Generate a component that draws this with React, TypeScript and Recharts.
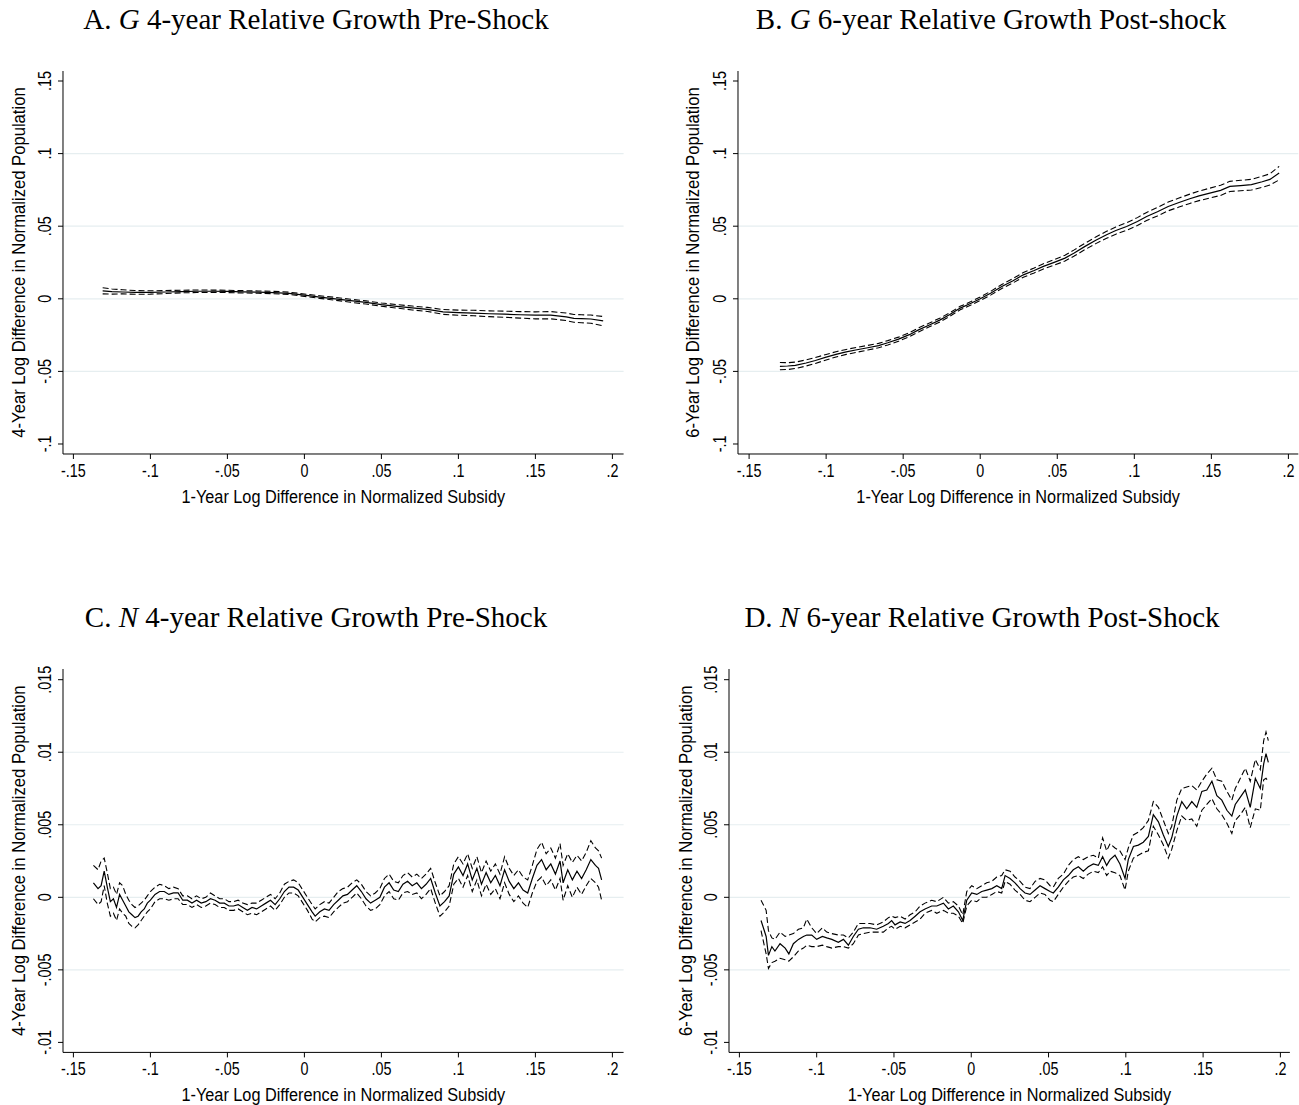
import React from "react";
import { LineChart, Line, XAxis, YAxis, ReferenceLine } from "recharts";

// Panel A: G, 4-year relative growth before the shock
const subsidyA = [
  -0.131, -0.125, -0.118, -0.11, -0.1, -0.09, -0.08, -0.07, -0.06, -0.05,
  -0.04, -0.03, -0.02, -0.01, 0.0, 0.01, 0.02, 0.03, 0.04, 0.05,
  0.06, 0.07, 0.08, 0.09, 0.1, 0.11, 0.12, 0.13, 0.14, 0.15,
  0.16, 0.17, 0.175, 0.18, 0.186, 0.194,
];
const fitA = [
  0.0055, 0.005, 0.0047, 0.0044, 0.0044, 0.0047, 0.005, 0.0052, 0.0052, 0.0051,
  0.0048, 0.0046, 0.0043, 0.0038, 0.0025, 0.0012, 0.0, -0.0013, -0.0025, -0.004,
  -0.0052, -0.0063, -0.0073, -0.009, -0.0095, -0.0098, -0.0103, -0.0106, -0.011, -0.0112,
  -0.0112, -0.0124, -0.0135, -0.0137, -0.0139, -0.0152,
];
const lowA = [
  0.0034, 0.0032, 0.0034, 0.0031, 0.0032, 0.0036, 0.0041, 0.0043, 0.0044, 0.0043,
  0.004, 0.0038, 0.0035, 0.003, 0.0017, 0.0003, -0.001, -0.0024, -0.0036, -0.0051,
  -0.0064, -0.0077, -0.0087, -0.0107, -0.0113, -0.0117, -0.0123, -0.0127, -0.0133, -0.0138,
  -0.0138, -0.015, -0.0162, -0.0165, -0.0168, -0.0186,
];
const highA = [
  0.0076, 0.0068, 0.0062, 0.0057, 0.0055, 0.0057, 0.0059, 0.0061, 0.006, 0.0059,
  0.0056, 0.0054, 0.0051, 0.0046, 0.0033, 0.0021, 0.001, -0.0003, -0.0014, -0.0029,
  -0.004, -0.005, -0.0059, -0.0074, -0.0078, -0.0079, -0.0083, -0.0085, -0.0088, -0.009,
  -0.0088, -0.0098, -0.0108, -0.011, -0.0112, -0.0122,
];

// Panel B: G, 6-year relative growth after the shock
const subsidyB = [
  -0.13, -0.125, -0.12, -0.113, -0.107, -0.1, -0.093, -0.087, -0.08, -0.073,
  -0.066, -0.06, -0.053, -0.046, -0.04, -0.033, -0.026, -0.02, -0.013, -0.006,
  0.0, 0.007, 0.014, 0.021, 0.028, 0.035, 0.041, 0.048, 0.055, 0.061,
  0.068, 0.075, 0.082, 0.088, 0.095, 0.102, 0.108, 0.115, 0.122, 0.129,
  0.136, 0.142, 0.149, 0.156, 0.162, 0.169, 0.176, 0.183, 0.188, 0.194,
];
const fitB = [
  -0.0466, -0.0463, -0.0458, -0.0442, -0.0425, -0.0402, -0.0381, -0.0366, -0.0351, -0.0337,
  -0.0322, -0.0303, -0.0278, -0.0247, -0.0214, -0.018, -0.0145, -0.011, -0.0064, -0.0031,
  0.0, 0.004, 0.0085, 0.0123, 0.0165, 0.0195, 0.0223, 0.0251, 0.028, 0.0316,
  0.0361, 0.0403, 0.0441, 0.047, 0.0498, 0.0532, 0.0567, 0.06, 0.0636, 0.0663,
  0.0689, 0.0709, 0.0728, 0.0747, 0.0774, 0.078, 0.0786, 0.0806, 0.0822, 0.0866,
];
const lowB = [
  -0.0489, -0.0487, -0.048, -0.0463, -0.0445, -0.0421, -0.0399, -0.0383, -0.0368, -0.0353,
  -0.0337, -0.0318, -0.0292, -0.0261, -0.0228, -0.0193, -0.0158, -0.0122, -0.0076, -0.0043,
  -0.0012, 0.0027, 0.0071, 0.0108, 0.0149, 0.0178, 0.0205, 0.0232, 0.026, 0.0295,
  0.0339, 0.038, 0.0417, 0.0445, 0.0472, 0.0505, 0.0539, 0.0571, 0.0606, 0.0632,
  0.0657, 0.0676, 0.0694, 0.0712, 0.0739, 0.0744, 0.0749, 0.0768, 0.0783, 0.0819,
];
const highB = [
  -0.0439, -0.044, -0.0436, -0.0421, -0.0405, -0.0383, -0.0363, -0.0349, -0.0334, -0.0321,
  -0.0307, -0.0288, -0.0264, -0.0233, -0.02, -0.0167, -0.0132, -0.0098, -0.0052, -0.0019,
  0.0012, 0.0053, 0.0099, 0.0138, 0.0181, 0.0212, 0.0241, 0.027, 0.03, 0.0337,
  0.0383, 0.0426, 0.0465, 0.0495, 0.0524, 0.0559, 0.0595, 0.0629, 0.0666, 0.0694,
  0.0721, 0.0742, 0.0762, 0.0782, 0.0809, 0.0816, 0.0823, 0.0844, 0.0861, 0.0912,
];

// Panel C: N, 4-year relative growth before the shock
const subsidyC = [
  -0.137, -0.134, -0.132, -0.13, -0.128, -0.126, -0.124, -0.122, -0.12, -0.118,
  -0.116, -0.114, -0.112, -0.11, -0.108, -0.106, -0.104, -0.102, -0.1, -0.097,
  -0.094, -0.091, -0.088, -0.085, -0.082, -0.079, -0.076, -0.073, -0.07, -0.067,
  -0.064, -0.061, -0.058, -0.055, -0.052, -0.049, -0.046, -0.043, -0.04, -0.037,
  -0.034, -0.031, -0.028, -0.025, -0.022, -0.019, -0.016, -0.013, -0.01, -0.007,
  -0.004, -0.001, 0.002, 0.005, 0.007, 0.01, 0.013, 0.016, 0.019, 0.022,
  0.025, 0.028, 0.031, 0.034, 0.037, 0.04, 0.043, 0.046, 0.049, 0.052,
  0.055, 0.058, 0.061, 0.064, 0.067, 0.07, 0.073, 0.076, 0.079, 0.082,
  0.085, 0.088, 0.091, 0.094, 0.097, 0.1, 0.103, 0.106, 0.109, 0.112,
  0.115, 0.118, 0.121, 0.124, 0.127, 0.13, 0.133, 0.136, 0.139, 0.142,
  0.145, 0.148, 0.151, 0.154, 0.157, 0.16, 0.163, 0.166, 0.168, 0.171,
  0.174, 0.177, 0.18, 0.183, 0.186, 0.189, 0.191, 0.193,
];
const fitC = [
  0.001, 0.0006, 0.0008, 0.0018, 0.0007, -0.0003, -0.0001, -0.0007, 0.0002, -0.0002,
  -0.0006, -0.001, -0.0012, -0.0014, -0.0013, -0.001, -0.0008, -0.0004, -0.0002, 0.0002,
  0.0004, 0.0004, 0.0002, 0.0003, 0.0003, -0.0002, -0.0002, -0.0004, -0.0002, -0.0004,
  -0.0003, -0.0001, -0.0002, -0.0004, -0.0004, -0.0006, -0.0006, -0.0005, -0.0007, -0.0009,
  -0.0007, -0.0008, -0.0006, -0.0004, -0.0002, -0.0005, -0.0001, 0.0004, 0.0007, 0.0007,
  0.0005, 0.0, -0.0005, -0.001, -0.0013, -0.001, -0.0008, -0.0009, -0.0005, -0.0002,
  0.0001, 0.0002, 0.0005, 0.0008, 0.0004, -0.0001, -0.0004, -0.0002, 0.0, 0.0007,
  0.001, 0.0005, 0.0004, 0.0009, 0.0011, 0.0008, 0.001, 0.0006, 0.0009, 0.0013,
  0.0003, -0.0006, -0.0003, 0.0001, 0.0016, 0.0021, 0.0015, 0.0023, 0.0012, 0.002,
  0.0009, 0.0017, 0.001, 0.0015, 0.0008, 0.0019, 0.0011, 0.0006, 0.001, 0.0005,
  0.0003, 0.0013, 0.0022, 0.0026, 0.0019, 0.0023, 0.0016, 0.0025, 0.001, 0.0019,
  0.0012, 0.0018, 0.0013, 0.0019, 0.0026, 0.0022, 0.002, 0.0012,
];
const lowC = [
  -0.0001, -0.0005, -0.0003, 0.0008, -0.0004, -0.0013, -0.0011, -0.0016, -0.0008, -0.0011,
  -0.0013, -0.0018, -0.002, -0.0021, -0.0019, -0.0016, -0.0013, -0.001, -0.0008, -0.0003,
  -0.0001, -0.0001, -0.0002, -0.0001, -0.0001, -0.0005, -0.0005, -0.0007, -0.0005, -0.0007,
  -0.0006, -0.0004, -0.0005, -0.0007, -0.0007, -0.0009, -0.0009, -0.0008, -0.001, -0.0012,
  -0.0011, -0.0012, -0.001, -0.0008, -0.0006, -0.0009, -0.0005, 0.0, 0.0003, 0.0003,
  0.0001, -0.0004, -0.0009, -0.0015, -0.0017, -0.0014, -0.0013, -0.0014, -0.001, -0.0007,
  -0.0004, -0.0003, 0.0, 0.0003, -0.0001, -0.0006, -0.0009, -0.0008, -0.0005, 0.0001,
  0.0004, -0.0001, -0.0002, 0.0003, 0.0004, 0.0002, 0.0003, -0.0001, 0.0002, 0.0006,
  -0.0004, -0.0013, -0.001, -0.0006, 0.0009, 0.0013, 0.0007, 0.0015, 0.0004, 0.0012,
  0.0001, 0.0009, 0.0002, 0.0006, -0.0001, 0.001, 0.0002, -0.0003, 0.0001, -0.0004,
  -0.0007, 0.0003, 0.0011, 0.0014, 0.0008, 0.0012, 0.0005, 0.0013, -0.0002, 0.0008,
  0.0, 0.0007, 0.0002, 0.0008, 0.0013, 0.001, 0.0007, -0.0002,
];
const highC = [
  0.0022, 0.0019, 0.0025, 0.0027, 0.0017, 0.0006, 0.0007, 0.0002, 0.001, 0.0008,
  0.0002, -0.0002, -0.0005, -0.0007, -0.0006, -0.0004, -0.0002, 0.0001, 0.0004, 0.0007,
  0.0009, 0.0008, 0.0006, 0.0007, 0.0006, 0.0001, 0.0001, -0.0001, 0.0001, -0.0001,
  0.0, 0.0003, 0.0001, -0.0001, -0.0001, -0.0003, -0.0003, -0.0002, -0.0004, -0.0005,
  -0.0004, -0.0004, -0.0002, 0.0, 0.0002, -0.0001, 0.0003, 0.0009, 0.0011, 0.0012,
  0.001, 0.0005, 0.0, -0.0005, -0.0008, -0.0005, -0.0003, -0.0004, 0.0, 0.0004,
  0.0006, 0.0007, 0.001, 0.0012, 0.0009, 0.0004, 0.0001, 0.0003, 0.0006, 0.0013,
  0.0016, 0.0011, 0.001, 0.0015, 0.0017, 0.0014, 0.0016, 0.0013, 0.0016, 0.002,
  0.001, 0.0001, 0.0004, 0.0008, 0.0023, 0.0028, 0.0023, 0.003, 0.002, 0.0028,
  0.0017, 0.0025, 0.0018, 0.0023, 0.0016, 0.0028, 0.002, 0.0015, 0.0019, 0.0014,
  0.0012, 0.0022, 0.0033, 0.0038, 0.003, 0.0034, 0.0027, 0.0037, 0.0022, 0.003,
  0.0024, 0.0029, 0.0025, 0.0031, 0.0039, 0.0034, 0.0032, 0.0027,
];

// Panel D: N, 6-year relative growth after the shock
const subsidyD = [
  -0.136, -0.1327, -0.1312, -0.129, -0.127, -0.1237, -0.1204, -0.118, -0.1151, -0.1118,
  -0.1086, -0.1064, -0.1032, -0.1, -0.0963, -0.0935, -0.0902, -0.086, -0.0827, -0.0795,
  -0.0763, -0.073, -0.0698, -0.0655, -0.0612, -0.0569, -0.0536, -0.0515, -0.0493, -0.046,
  -0.0428, -0.0396, -0.0363, -0.0331, -0.0299, -0.0256, -0.0223, -0.018, -0.0148, -0.0116,
  -0.0083, -0.0055, -0.0029, 0.0003, 0.0036, 0.0068, 0.01, 0.0133, 0.0165, 0.0197,
  0.0219, 0.0251, 0.0283, 0.0316, 0.0348, 0.038, 0.0413, 0.0445, 0.0477, 0.051,
  0.0531, 0.0563, 0.0596, 0.0628, 0.066, 0.0693, 0.0725, 0.0757, 0.079, 0.0822,
  0.085, 0.0876, 0.0898, 0.093, 0.0962, 0.0995, 0.1016, 0.1049, 0.1081, 0.1113,
  0.1146, 0.1178, 0.1211, 0.1243, 0.1275, 0.1297, 0.133, 0.1362, 0.1394, 0.1427,
  0.1459, 0.1492, 0.1524, 0.1557, 0.1589, 0.1621, 0.1654, 0.1686, 0.1708, 0.1741,
  0.1773, 0.1805, 0.1838, 0.187, 0.1892, 0.1907, 0.1922,
];
const fitD = [
  -0.0016, -0.0027, -0.004, -0.0034, -0.0037, -0.0032, -0.0035, -0.0039, -0.0032, -0.0029,
  -0.0027, -0.0026, -0.0026, -0.0029, -0.0027, -0.0028, -0.0029, -0.0031, -0.0029, -0.0033,
  -0.0027, -0.0022, -0.0021, -0.0021, -0.0022, -0.002, -0.0018, -0.0016, -0.0019, -0.0017,
  -0.0018, -0.0016, -0.0013, -0.001, -0.0008, -0.0006, -0.0006, -0.0004, -0.0008, -0.0006,
  -0.001, -0.0016, -0.0002, 0.0003, 0.0002, 0.0004, 0.0005, 0.0006, 0.0008, 0.0006,
  0.0015, 0.0013, 0.001, 0.0006, 0.0003, 0.0002, 0.0005, 0.0008, 0.0006, 0.0004,
  0.0003, 0.0007, 0.0012, 0.0015, 0.0019, 0.0021, 0.0018, 0.0021, 0.0023, 0.0022,
  0.0028, 0.0022, 0.0026, 0.0029, 0.0023, 0.0013, 0.0026, 0.0035, 0.0036, 0.0038,
  0.0042, 0.0057, 0.0052, 0.0043, 0.0035, 0.0041, 0.0056, 0.0066, 0.0061, 0.0066,
  0.0062, 0.0073, 0.0074, 0.008, 0.007, 0.0067, 0.006, 0.0056, 0.0064, 0.0069,
  0.0074, 0.0062, 0.0082, 0.0075, 0.0092, 0.0099, 0.0093,
];
const lowD = [
  -0.0023, -0.0039, -0.0049, -0.0045, -0.0044, -0.0042, -0.0043, -0.0044, -0.0041, -0.0037,
  -0.0035, -0.0033, -0.0034, -0.0034, -0.0033, -0.0034, -0.0035, -0.0034, -0.0034, -0.0035,
  -0.0032, -0.0026, -0.0025, -0.0024, -0.0024, -0.0024, -0.0021, -0.002, -0.0022, -0.002,
  -0.0021, -0.0019, -0.0017, -0.0015, -0.0011, -0.0009, -0.0011, -0.0009, -0.0011, -0.0011,
  -0.0013, -0.0018, -0.0006, -0.0002, -0.0003, 0.0, 0.0, 0.0002, 0.0004, 0.0003,
  0.0011, 0.0009, 0.0005, 0.0002, -0.0002, -0.0003, 0.0, 0.0003, 0.0002, -0.0002,
  -0.0003, 0.0002, 0.0007, 0.0011, 0.0014, 0.0015, 0.0013, 0.0016, 0.0018, 0.0017,
  0.0021, 0.0015, 0.0018, 0.0017, 0.0015, 0.0005, 0.0018, 0.0027, 0.0029, 0.0031,
  0.0032, 0.0049, 0.0043, 0.0036, 0.0027, 0.0033, 0.0046, 0.0056, 0.0053, 0.0054,
  0.0049, 0.006, 0.0064, 0.0068, 0.0061, 0.0057, 0.0051, 0.0044, 0.0053, 0.0057,
  0.0062, 0.0048, 0.0061, 0.006, 0.0081, 0.0082, 0.008,
];
const highD = [
  -0.0002, -0.0009, -0.0023, -0.0028, -0.0029, -0.0024, -0.0027, -0.0026, -0.0025, -0.0022,
  -0.0021, -0.0015, -0.0021, -0.0025, -0.0021, -0.0024, -0.0025, -0.0026, -0.0026, -0.0028,
  -0.0024, -0.0018, -0.0018, -0.0018, -0.0019, -0.0017, -0.0014, -0.0013, -0.0014, -0.0013,
  -0.0015, -0.0012, -0.001, -0.0006, -0.0004, -0.0002, -0.0003, 0.0, -0.0004, -0.0003,
  -0.0006, -0.0012, 0.0004, 0.0008, 0.0006, 0.0008, 0.001, 0.0011, 0.0014, 0.0015,
  0.0019, 0.0018, 0.0014, 0.0011, 0.0007, 0.0006, 0.0011, 0.0013, 0.0012, 0.0008,
  0.0007, 0.0013, 0.0016, 0.0022, 0.0026, 0.0028, 0.0026, 0.0028, 0.0029, 0.0027,
  0.0041, 0.0032, 0.0037, 0.0034, 0.0032, 0.0026, 0.0034, 0.0043, 0.0045, 0.0048,
  0.0053, 0.0066, 0.0062, 0.0053, 0.0044, 0.0049, 0.0067, 0.0075, 0.0076, 0.0077,
  0.0074, 0.008, 0.0085, 0.0089, 0.0081, 0.008, 0.0073, 0.0067, 0.0075, 0.0082,
  0.0089, 0.008, 0.0095, 0.0088, 0.0108, 0.0114, 0.0108,
];

const xTicks = [-0.15, -0.1, -0.05, 0, 0.05, 0.1, 0.15, 0.2];
const yTicksG = [-0.1, -0.05, 0, 0.05, 0.1, 0.15];
const yTicksN = [-0.01, -0.005, 0, 0.005, 0.01, 0.015];
const gridG = [-0.05, 0, 0.05, 0.1];
const gridN = [-0.005, 0, 0.005, 0.01];

const SANS = "'Liberation Sans', Arial, Helvetica, sans-serif";
const SERIF = "'Liberation Serif', 'Times New Roman', serif";
const GRID = "#E6EEF0";
const INK = "#000";

const YW = 70; // room left of the y axis line
const XH = 60; // room below the x axis line
const TOP = 22; // headroom so the top tick label is not clipped
const PAD = 2;

// narrow sans look: squeeze glyphs along the reading direction
const NARROW = 0.82;
const TICK_FS = 17.5;
const TITLE_FS = 18.5;

// Stata-style numbers: no leading zero
const stataNum = (v: number) => (v === 0 ? "0" : String(v).replace("0.", "."));

function toRows(x: number[], lo: number[], fit: number[], hi: number[]) {
  return x.map((v, i) => ({ x: v, lo: lo[i], fit: fit[i], hi: hi[i] }));
}

function NarrowText(props: {
  x: number;
  y: number;
  rotate?: boolean;
  squeeze: number;
  size: number;
  children: React.ReactNode;
}) {
  const rot = props.rotate ? " rotate(-90)" : "";
  return (
    <g transform={`translate(${props.x} ${props.y})${rot} scale(${props.squeeze} 1)`}>
      <text
        x={0}
        y={0}
        textAnchor="middle"
        dominantBaseline="central"
        fontFamily={SANS}
        fontSize={props.size}
        fill={INK}
      >
        {props.children}
      </text>
    </g>
  );
}

const XTick = (props: any) => (
  <NarrowText x={props.x} y={props.y} squeeze={NARROW} size={TICK_FS}>
    {stataNum(props.payload.value)}
  </NarrowText>
);

const YTick = (props: any) => (
  <NarrowText x={props.x} y={props.y} rotate squeeze={NARROW} size={TICK_FS}>
    {stataNum(props.payload.value)}
  </NarrowText>
);

type PanelProps = {
  letter: string;
  group: string;
  rest: string;
  titleX: number;
  titleBase: number;
  left: number;
  right: number;
  top: number;
  bottom: number;
  xDomain: [number, number];
  yDomain: [number, number];
  yTicks: number[];
  grid: number[];
  yTitle: string;
  yTitleOffset: number;
  data: { x: number; lo: number; fit: number; hi: number }[];
};

function Panel(p: PanelProps) {
  const plotW = p.right - p.left;
  const plotH = p.bottom - p.top;
  return (
    <>
      <svg
        width={1299}
        height={60}
        style={{ position: "absolute", left: 0, top: p.titleBase - 40 }}
      >
        <text
          x={p.titleX}
          y={40}
          textAnchor="middle"
          fontFamily={SERIF}
          fontSize={29}
          fill={INK}
        >
          {p.letter + ". "}
          <tspan fontStyle="italic">{p.group}</tspan>
          {" " + p.rest}
        </text>
      </svg>
      <div style={{ position: "absolute", left: p.left - YW, top: p.top - TOP }}>
        <LineChart
          width={YW + plotW + PAD}
          height={plotH + XH + TOP}
          data={p.data}
          margin={{ top: TOP, right: PAD, bottom: 0, left: 0 }}
        >
          <XAxis
            type="number"
            dataKey="x"
            domain={p.xDomain}
            ticks={xTicks}
            allowDataOverflow
            height={XH}
            stroke={INK}
            tickSize={5}
            tickMargin={11.8}
            tick={<XTick />}
            label={{
              content: (lp: any) => {
                const vb = lp.viewBox;
                return (
                  <NarrowText
                    x={vb.x + vb.width / 2}
                    y={vb.y + 42.7}
                    squeeze={0.88}
                    size={TITLE_FS}
                  >
                    1-Year Log Difference in Normalized Subsidy
                  </NarrowText>
                );
              },
            }}
          />
          <YAxis
            type="number"
            domain={p.yDomain}
            ticks={p.yTicks}
            allowDataOverflow
            width={YW}
            stroke={INK}
            tickSize={5}
            tickMargin={12.8}
            tick={<YTick />}
            label={{
              content: (lp: any) => {
                const vb = lp.viewBox;
                return (
                  <NarrowText
                    x={vb.x + vb.width - p.yTitleOffset}
                    y={vb.y + vb.height / 2}
                    rotate
                    squeeze={0.9}
                    size={TITLE_FS}
                  >
                    {p.yTitle}
                  </NarrowText>
                );
              },
            }}
          />
          {p.grid.map((g) => (
            <ReferenceLine key={g} y={g} stroke={GRID} strokeWidth={1.2} />
          ))}
          <Line
            type="linear"
            dataKey="hi"
            stroke={INK}
            strokeWidth={1.1}
            strokeDasharray="6 3"
            dot={false}
            isAnimationActive={false}
          />
          <Line
            type="linear"
            dataKey="lo"
            stroke={INK}
            strokeWidth={1.1}
            strokeDasharray="6 3"
            dot={false}
            isAnimationActive={false}
          />
          <Line
            type="linear"
            dataKey="fit"
            stroke={INK}
            strokeWidth={1.2}
            dot={false}
            isAnimationActive={false}
          />
        </LineChart>
      </div>
    </>
  );
}

export default function App() {
  return (
    <div
      style={{
        position: "absolute",
        left: 0,
        top: 0,
        width: 1299,
        height: 1105,
        background: "#fff",
        overflow: "hidden",
      }}
    >
      <Panel
        letter="A"
        group="G"
        rest="4-year Relative Growth Pre-Shock"
        titleX={316}
        titleBase={29.3}
        left={63.4}
        right={624}
        top={71}
        bottom={454}
        xDomain={[-0.15675, 0.20727]}
        yDomain={[-0.10689, 0.15689]}
        yTicks={yTicksG}
        grid={gridG}
        yTitle="4-Year Log Difference in Normalized Population"
        yTitleOffset={44.7}
        data={toRows(subsidyA, lowA, fitA, highA)}
      />
      <Panel
        letter="B"
        group="G"
        rest="6-year Relative Growth Post-shock"
        titleX={991}
        titleBase={29.3}
        left={738.2}
        right={1298.5}
        top={71}
        bottom={454}
        xDomain={[-0.1572, 0.20642]}
        yDomain={[-0.10689, 0.15689]}
        yTicks={yTicksG}
        grid={gridG}
        yTitle="6-Year Log Difference in Normalized Population"
        yTitleOffset={45.6}
        data={toRows(subsidyB, lowB, fitB, highB)}
      />
      <Panel
        letter="C"
        group="N"
        rest="4-year Relative Growth Pre-Shock"
        titleX={316}
        titleBase={627.3}
        left={63.4}
        right={624}
        top={669.3}
        bottom={1052.7}
        xDomain={[-0.15675, 0.20727]}
        yDomain={[-0.010689, 0.015737]}
        yTicks={yTicksN}
        grid={gridN}
        yTitle="4-Year Log Difference in Normalized Population"
        yTitleOffset={44.7}
        data={toRows(subsidyC, lowC, fitC, highC)}
      />
      <Panel
        letter="D"
        group="N"
        rest="6-year Relative Growth Post-Shock"
        titleX={982}
        titleBase={627.3}
        left={728.6}
        right={1289.5}
        top={669.3}
        bottom={1052.7}
        xDomain={[-0.15673, 0.20615]}
        yDomain={[-0.010689, 0.015737]}
        yTicks={yTicksN}
        grid={gridN}
        yTitle="6-Year Log Difference in Normalized Population"
        yTitleOffset={43.6}
        data={toRows(subsidyD, lowD, fitD, highD)}
      />
    </div>
  );
}
